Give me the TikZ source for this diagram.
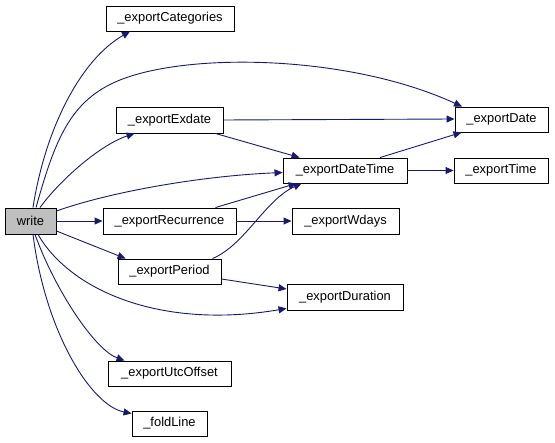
\documentclass[tikz,border=0pt]{standalone}
\usepackage{fontspec}
\setmainfont{Liberation Sans}
\usetikzlibrary{arrows.meta}
\definecolor{edgeblue}{RGB}{25,25,112}
\definecolor{rootgray}{RGB}{191,191,191}
\begin{document}
\begin{tikzpicture}[x=1pt,y=-1pt,
  box/.style={draw=black,line width=0.9pt,fill=white,inner sep=0pt,font=\fontsize{12.9}{15}\selectfont},
  edge/.style={draw=edgeblue,line width=0.9pt,-{Triangle[length=8pt,width=7pt]}}]
\useasboundingbox (0,0) rectangle (555,443);
\node[box,fill=rootgray,minimum width=51pt,minimum height=26pt] (write) at (30.5,221) {write};
\node[box,minimum width=128pt,minimum height=25pt] (cats) at (170,18.5) {\_exportCategories};
\node[box,minimum width=107pt,minimum height=26pt] (exdate) at (169.5,120) {\_exportExdate};
\node[box,minimum width=133pt,minimum height=26pt] (recur) at (169.5,221) {\_exportRecurrence};
\node[box,minimum width=103pt,minimum height=25pt] (period) at (169.5,271.5) {\_exportPeriod};
\node[box,minimum width=116pt,minimum height=26pt] (duration) at (345,297) {\_exportDuration};
\node[box,minimum width=123pt,minimum height=25pt] (utc) at (169.5,373.5) {\_exportUtcOffset};
\node[box,minimum width=75pt,minimum height=25pt] (fold) at (169.5,423.5) {\_foldLine};
\node[box,minimum width=107pt,minimum height=26pt] (wdays) at (345.5,221) {\_exportWdays};
\node[box,minimum width=124pt,minimum height=25pt] (datetime) at (345,170.5) {\_exportDateTime};
\node[box,minimum width=93pt,minimum height=25pt] (date) at (501.5,119.5) {\_exportDate};
\node[box,minimum width=94pt,minimum height=25pt] (time) at (501,170.5) {\_exportTime};
% edges from write
\draw[edge] ([xshift=2.5pt]write.north) .. controls (45,130) and (80,60) .. ([xshift=-40pt]cats.south);
\draw[edge] ([xshift=5.5pt]write.north) .. controls (55,140) and (70,100) .. (120,80)
   .. controls (190,52) and (350,55) .. ([xshift=-39.5pt]date.north);
\draw[edge] ([xshift=9.5pt]write.north) .. controls (60,180) and (100,145) .. ([xshift=-35pt]exdate.south);
\draw[edge] ([yshift=10pt]write.east) .. controls (110,192) and (200,176) .. ([yshift=-2pt]datetime.west);
\draw[edge] (write.east) -- (recur.west);
\draw[edge] ([yshift=-10pt]write.east) -- ([xshift=8pt]period.north west);
\draw[edge] ([xshift=7.5pt]write.south) .. controls (70,290) and (160,330) .. ([yshift=2pt]duration.south west);
\draw[edge] ([xshift=4.5pt]write.south) .. controls (55,290) and (95,350) .. ([xshift=17pt]utc.north west);
\draw[edge] ([xshift=2.5pt]write.south) .. controls (45,330) and (90,405) .. ([yshift=-3pt]fold.north west);
% other edges
\draw[edge] (exdate.east) -- ([yshift=0.5pt]date.west);
\draw[edge] ([xshift=-8pt]exdate.south east) -- ([xshift=17pt]datetime.north west);
\draw[edge] ([xshift=-21pt]recur.north east) -- ([xshift=14pt]datetime.south west);
\draw[edge] (recur.east) -- (wdays.west);
\draw[edge] ([xshift=-9pt]period.north east) .. controls (245,245) and (265,200) .. ([xshift=19pt]datetime.south west);
\draw[edge] ([yshift=-7.5pt]period.east) -- ([yshift=8pt]duration.west);
\draw[edge] ([xshift=35pt]datetime.north) -- ([xshift=-40pt]date.south);
\draw[edge] (datetime.east) -- (time.west);
\end{tikzpicture}
\end{document}
